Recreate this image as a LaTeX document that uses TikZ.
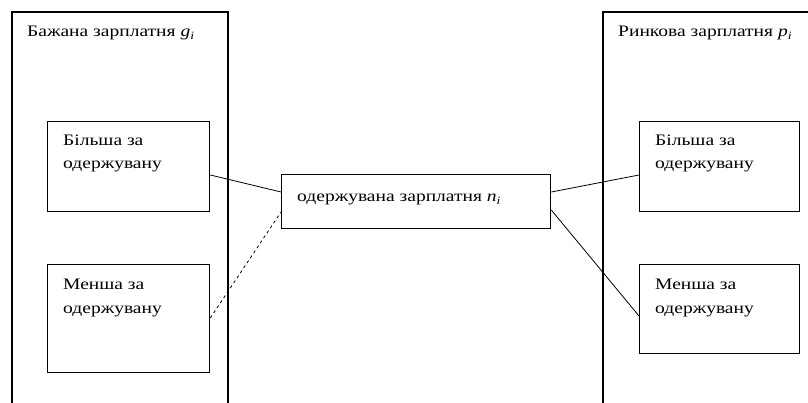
\documentclass[tikz,border=0pt]{standalone}
\usepackage{fontspec}
\setmainfont{Liberation Serif}[FakeStretch=1.22]
\begin{document}
\begin{tikzpicture}[x=1pt,y=-1pt,
  box/.style={draw,line width=1.3pt,minimum width=162pt,minimum height=90pt,anchor=north west,inner sep=0pt},
  lbl/.style={anchor=base west,inner sep=0pt,font=\fontsize{16}{19}\selectfont},
  conn/.style={line width=0.8pt},
  frame/.style={line width=1.1pt}]
\useasboundingbox (0,0) rectangle (808,403);
% big frames
\draw[frame] (12,403) -- (12,12) -- (228,12) -- (228,403);
\draw[frame] (603,403) -- (603,12) -- (808,12);
\node[lbl] (tl) at (27,37) {Бажана зарплатня \textit{g}\textsubscript{\textit{i}}};
\node[lbl] (tr) at (618,37) {Ринкова зарплатня \textit{p}\textsubscript{\textit{i}}};
% left boxes
\node[box] (lb1) at (47,121) {};
\node[box,minimum height=108pt] (lb2) at (47,264) {};
\node[lbl] (lt1) at (63,146) {Більша за};
\node[lbl] (lt2) at (63,169) {одержувану};
\node[lbl] (lt3) at (63,290) {Менша за};
\node[lbl] (lt4) at (63,313) {одержувану};
% right boxes
\node[box,minimum width=160pt] (rb1) at (639,121) {};
\node[box,minimum width=160pt,minimum height=89pt] (rb2) at (639,264) {};
\node[lbl] (rt1) at (655,146) {Більша за};
\node[lbl] (rt2) at (655,169) {одержувану};
\node[lbl] (rt3) at (655,290) {Менша за};
\node[lbl] (rt4) at (655,313) {одержувану};
% center
\node[box,minimum width=269pt,minimum height=54pt] (c) at (281,174) {};
\node[lbl] (ct) at (297,202) {одержувана зарплатня \textit{n}\textsubscript{\textit{i}}};
% connectors
\draw[conn] (lb1.east |- 0,175) -- (c.west |- 0,192);
\draw[conn,dashed] (lb2.east |- 0,318) -- (c.west |- 0,212);
\draw[conn] (c.east |- 0,192) -- (rb1.west |- 0,175);
\draw[conn] (c.east |- 0,210) -- (rb2.west |- 0,316);
\end{tikzpicture}
\end{document}
